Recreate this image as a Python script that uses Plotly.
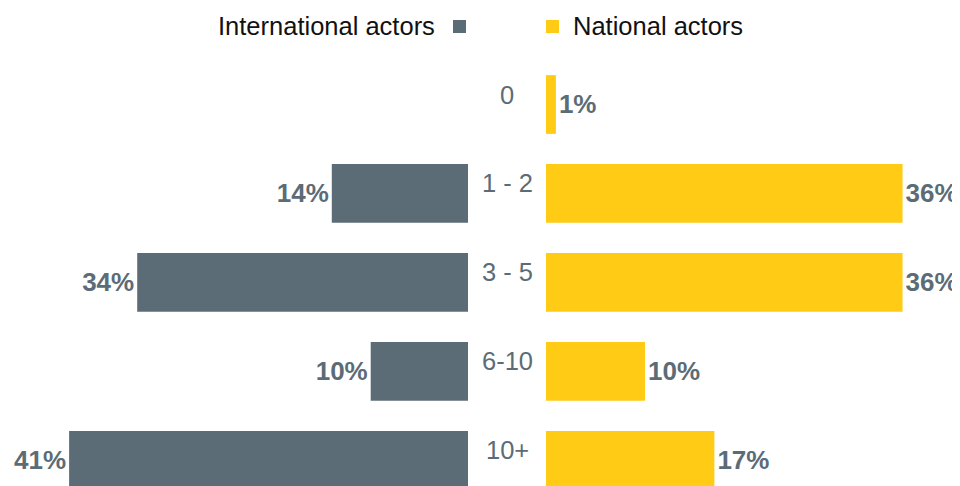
import plotly.graph_objects as go

categories = ["0", "1 - 2", "3 - 5", "6-10", "10+"]
international = [None, 14, 34, 10, 41]
national = [1, 36, 36, 10, 17]

GREY = "#5c6c76"
YELLOW = "#ffcb14"
FONT = "Liberation Sans, Arial, sans-serif"

# the page puts the figure 8px in from the top-left corner
W, H = 952, 478
TOP = 52
PLOT_H = H - TOP


def px_x(px):
    return px / W


def px_y(px):
    return 1 + (TOP - px) / PLOT_H


fig = go.Figure()

# left side, reversed axis so bars grow leftwards
fig.add_trace(
    go.Bar(
        y=categories,
        x=international,
        orientation="h",
        name="International actors",
        marker={"color": GREY, "line": {"width": 0}},
        width=0.66,
        texttemplate="%{x}%",
        textposition="outside",
        textfont={"family": FONT, "size": 26, "color": GREY, "weight": "bold"},
        constraintext="none",
        cliponaxis=False,
        xaxis="x",
        yaxis="y",
    )
)

# right side
fig.add_trace(
    go.Bar(
        y=categories,
        x=national,
        orientation="h",
        name="National actors",
        marker={"color": YELLOW, "line": {"width": 0}},
        width=0.66,
        texttemplate="%{x}%",
        textposition="outside",
        textfont={"family": FONT, "size": 26, "color": GREY, "weight": "bold"},
        constraintext="none",
        cliponaxis=False,
        xaxis="x2",
        yaxis="y",
    )
)

# category labels in the gap between the two sides
for cat in categories:
    fig.add_annotation(
        x=px_x(499),
        xref="paper",
        y=cat,
        yref="y",
        yshift=10,
        text=cat,
        showarrow=False,
        xanchor="center",
        font={"family": FONT, "size": 25.5, "color": GREY},
    )

# legend: text plus coloured squares
fig.add_annotation(
    x=px_x(429),
    y=px_y(18),
    xref="paper",
    yref="paper",
    text="International actors",
    showarrow=False,
    xanchor="right",
    yanchor="middle",
    font={"family": FONT, "size": 25.5, "color": "#111111"},
)
fig.add_annotation(
    x=px_x(563),
    y=px_y(18),
    xref="paper",
    yref="paper",
    text="National actors",
    showarrow=False,
    xanchor="left",
    yanchor="middle",
    font={"family": FONT, "size": 25.5, "color": "#111111"},
)
fig.add_shape(
    type="rect", xref="paper", yref="paper",
    x0=px_x(445), x1=px_x(458), y0=px_y(12), y1=px_y(25),
    fillcolor=GREY, line={"width": 0},
)
fig.add_shape(
    type="rect", xref="paper", yref="paper",
    x0=px_x(538), x1=px_x(551), y0=px_y(12), y1=px_y(25),
    fillcolor=YELLOW, line={"width": 0},
)

fig.update_layout(
    width=W,
    height=H,
    margin={"l": 0, "r": 0, "t": TOP, "b": 0},
    paper_bgcolor="white",
    plot_bgcolor="white",
    showlegend=False,
    xaxis={
        "domain": [0, px_x(460)],
        "range": [47.28, 0],
        "visible": False,
        "fixedrange": True,
    },
    xaxis2={
        "domain": [px_x(538), 1],
        "range": [0, 41.8],
        "visible": False,
        "anchor": "y",
        "fixedrange": True,
    },
    yaxis={
        "categoryorder": "array",
        "categoryarray": categories,
        "range": [4.287, -0.5],
        "visible": False,
        "fixedrange": True,
    },
)

fig.write_html("out.html")
